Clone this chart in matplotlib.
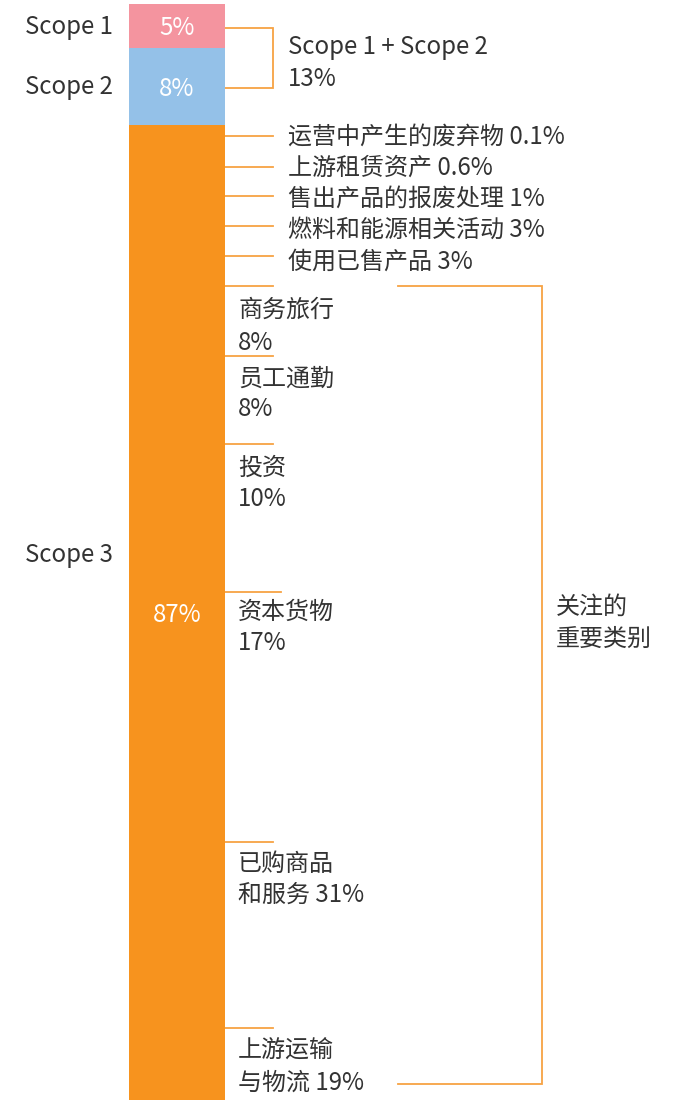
import matplotlib
matplotlib.use("Agg")
import matplotlib.pyplot as plt
import numpy as np

plt.rcParams['font.family'] = ['Noto Sans CJK SC', 'DejaVu Sans']

# ---------------- data ----------------
scopes = ["Scope 1", "Scope 2", "Scope 3"]
scope_labels = ["5%", "8%", "87%"]
scope_share_drawn = [4.0, 7.0, 89.0]          # segment heights as drawn in the picture
scope_colors = ["#F4949F", "#94C1E8", "#F7931E"]

combined_label = "Scope 1 + Scope 2"
combined_value = "13%"

minor_cats = ["运营中产生的废弃物", "上游租赁资产", "售出产品的报废处理", "燃料和能源相关活动", "使用已售产品"]
minor_vals = ["0.1%", "0.6%", "1%", "3%", "3%"]

major_line1 = ["商务旅行", "员工通勤", "投资", "资本货物", "已购商品", "上游运输"]
major_line2 = ["", "", "", "", "和服务 ", "与物流 "]
major_vals = ["8%", "8%", "10%", "17%", "31%", "19%"]

focus_label = "关注的\n重要类别"

# ---------------- layout (pixels) ----------------
W, H = 675, 1102
bar_left, bar_right, bar_top, bar_bottom = 129, 225, 4, 1100
dy = 2.5
scope_name_y = [24, 84, 552]
tick_end = 273
minor_tick_y = [136, 167, 196, 226, 256]
minor_text_y = [134, 165, 196, 227, 259]
major_tick_y = [286, 356, 444, 592, 842, 1028]
major_tick_end = [273, 273, 273, 281, 273, 273]
major_text_y1 = [307, 376, 465, 609, 861, 1048]
major_text_y2 = [340, 407, 496, 640, 892, 1080]
text_color = "#333333"
line_color = "#F7A343"
fs = 17.3

fig = plt.figure(figsize=(W / 100, H / 100), dpi=100)
ov = fig.add_axes([0, 0, 1, 1])
ov.set_xlim(0, W)
ov.set_ylim(H, 0)
ov.axis('off')

axb = fig.add_axes([bar_left / W, (H - bar_bottom) / H,
                    (bar_right - bar_left) / W, (bar_bottom - bar_top) / H])
bottoms = np.concatenate([[0], np.cumsum(scope_share_drawn)[:-1]])
axb.bar(0.5, scope_share_drawn, bottom=bottoms, width=1.0, color=scope_colors,
        edgecolor='none')
axb.set_xlim(0, 1)
axb.set_ylim(sum(scope_share_drawn), 0)
axb.axis('off')
px_per_unit = (bar_bottom - bar_top) / sum(scope_share_drawn)
for b, v, lab in zip(bottoms, scope_share_drawn, scope_labels):
    axb.text(0.5, b + v / 2 + dy / px_per_unit, lab, ha='center', va='center',
             color='white', fontsize=fs)

# scope names
for name, y in zip(scopes, scope_name_y):
    ov.text(113, y + dy, name, ha='right', va='center', color=text_color, fontsize=fs)

lw = 1.3
# scope 1+2 bracket
ov.plot([bar_right, tick_end, tick_end, bar_right], [28, 28, 88, 88],
        color=line_color, lw=lw, solid_joinstyle='miter')
ov.text(288, 45 + dy, combined_label, ha='left', va='center', color=text_color, fontsize=fs)
ov.text(288, 76 + dy, combined_value, ha='left', va='center', color=text_color, fontsize=fs)

# minor categories
for y, ty, c, v in zip(minor_tick_y, minor_text_y, minor_cats, minor_vals):
    ov.plot([bar_right, tick_end], [y, y], color=line_color, lw=lw)
    ov.text(288, ty + dy, f"{c} {v}", ha='left', va='center', color=text_color, fontsize=fs)

# major categories
for y, xe, y1, y2, l1, l2, v in zip(major_tick_y, major_tick_end, major_text_y1,
                                    major_text_y2, major_line1, major_line2, major_vals):
    ov.plot([bar_right, xe], [y, y], color=line_color, lw=lw)
    ov.text(238, y1 + dy, l1, ha='left', va='center', color=text_color, fontsize=fs)
    ov.text(238, y2 + dy, l2 + v, ha='left', va='center', color=text_color, fontsize=fs)

# focus bracket
ov.plot([398, 542, 542, 398], [286, 286, 1084, 1084], color=line_color, lw=lw,
        solid_joinstyle='miter')
ov.text(556, 620 + dy, focus_label, ha='left', va='center', color=text_color,
        fontsize=fs, linespacing=1.3)

fig.savefig("out.png", dpi=100)
